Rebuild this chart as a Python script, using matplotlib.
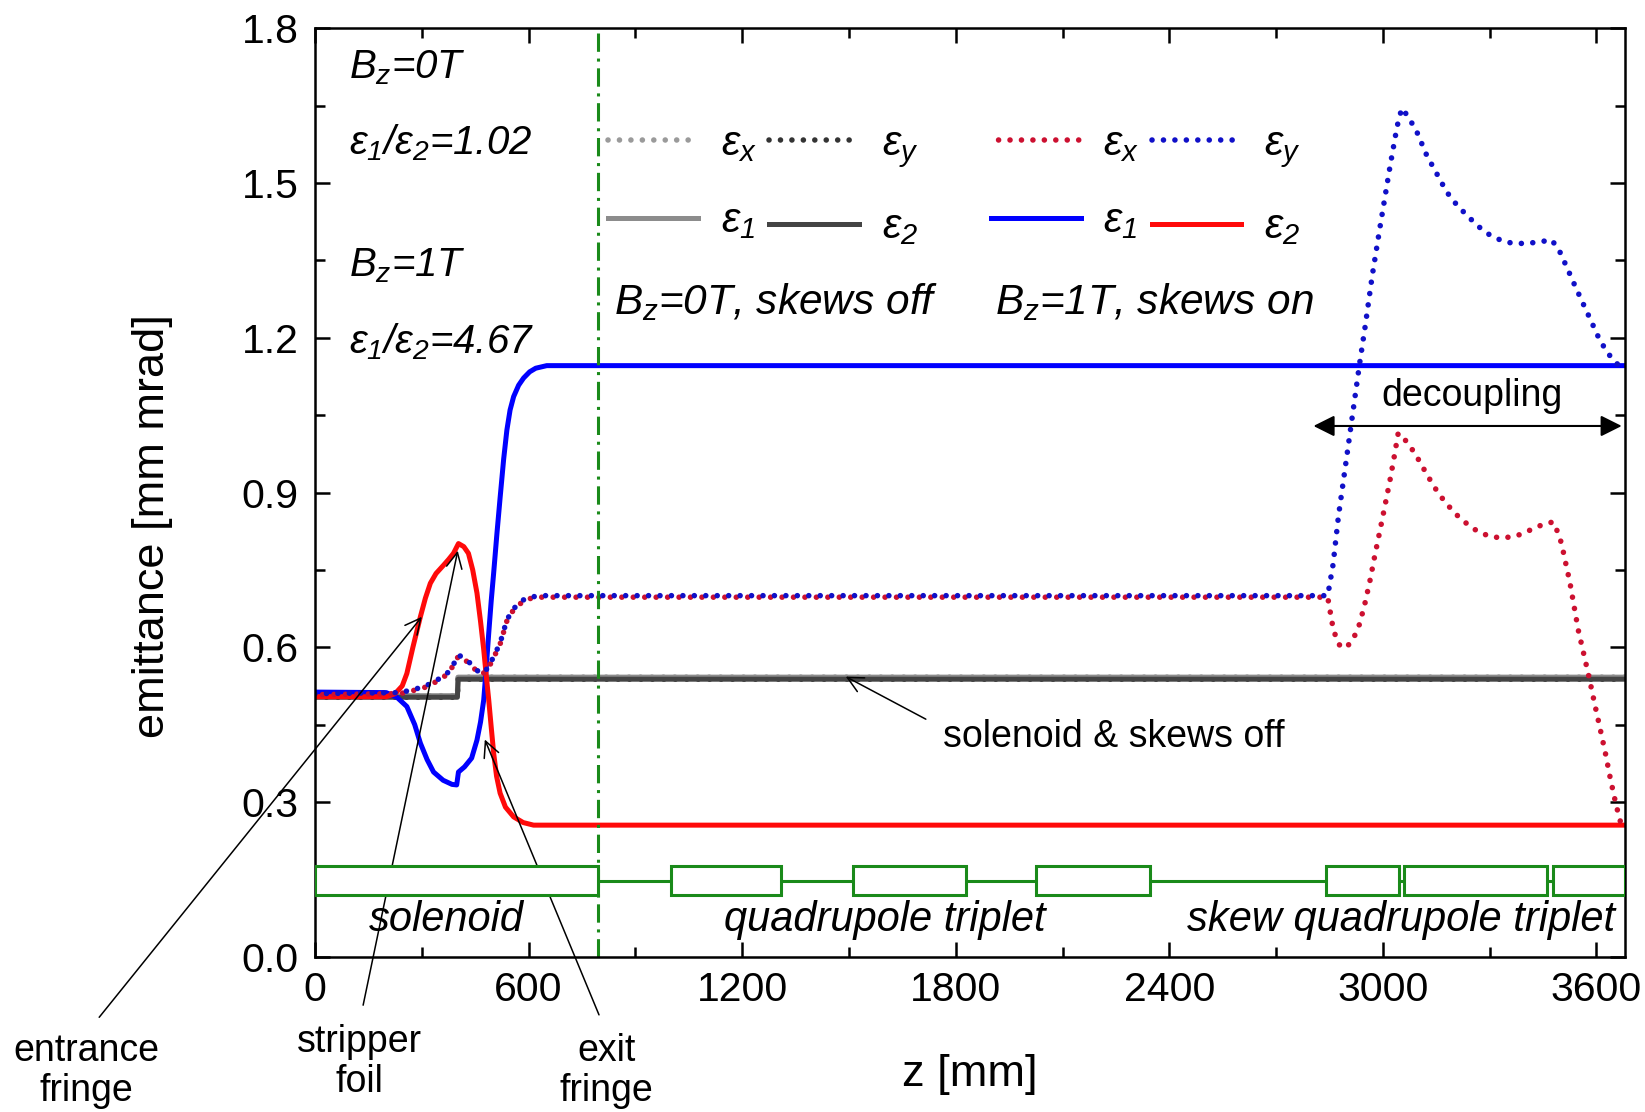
import matplotlib.pyplot as plt
from matplotlib.patches import Rectangle
from matplotlib.ticker import MultipleLocator, FormatStrFormatter

plt.rcParams['font.family'] = ['Liberation Sans', 'DejaVu Sans']
plt.rcParams['mathtext.fontset'] = 'custom'
plt.rcParams['mathtext.rm'] = 'Liberation Sans:italic'
plt.rcParams['mathtext.it'] = 'Liberation Sans:italic'
plt.rcParams['mathtext.bf'] = 'Liberation Sans:bold'

# ---- data (z in mm, emittance in mm mrad) ----
# Bz = 0 T, skews off
z_off = [0, 400, 402, 3680]
eps1_off = [0.506, 0.506, 0.542, 0.542]
eps2_off = [0.503, 0.503, 0.538, 0.538]
epsx_off = [0.506, 0.506, 0.542, 0.542]
epsy_off = [0.503, 0.503, 0.538, 0.538]

# Bz = 1 T, skews on : eigen-emittances
z_e1 = [0, 200, 230, 258, 280, 296, 315, 333, 360, 385, 398, 403, 420, 440,
        455, 465, 474, 481, 488, 495, 502, 511, 520, 530, 539, 548, 558, 572,
        586, 603, 620, 651, 3680]
eps1_on = [0.513, 0.512, 0.503, 0.485, 0.450, 0.414, 0.382, 0.358, 0.342,
           0.334, 0.333, 0.358, 0.368, 0.385, 0.420, 0.455, 0.498, 0.560,
           0.627, 0.690, 0.745, 0.820, 0.890, 0.965, 1.021, 1.060, 1.086,
           1.108, 1.122, 1.134, 1.141, 1.146, 1.146]
z_e2 = [0, 200, 225, 245, 258, 275, 296, 310, 324, 340, 361, 375, 389, 403,
        418, 431, 443, 455, 465, 474, 481, 488, 495, 502, 510, 520, 535, 558,
        585, 614, 3680]
eps2_on = [0.504, 0.504, 0.510, 0.525, 0.549, 0.600, 0.659, 0.695, 0.724,
           0.743, 0.759, 0.770, 0.782, 0.801, 0.795, 0.782, 0.750, 0.705,
           0.650, 0.595, 0.545, 0.498, 0.445, 0.394, 0.350, 0.317, 0.290,
           0.271, 0.260, 0.255, 0.255]

# Bz = 1 T, skews on : projected emittances
z_x = [0, 240, 270, 305, 340, 371, 390, 403, 420, 436, 455, 469, 486, 502,
       520, 539, 558, 591, 630, 2845, 2861, 2877, 2893, 2912, 2931, 2948,
       2964, 2978, 2992, 3006, 3020, 3032, 3043, 3065, 3090, 3127, 3150, 3174,
       3205, 3240, 3270, 3305, 3340, 3376, 3410, 3446, 3478, 3490, 3502, 3513,
       3525, 3537, 3549, 3565, 3581, 3595, 3610, 3625, 3638, 3650, 3661, 3668]
epsx_on = [0.508, 0.510, 0.515, 0.521, 0.533, 0.547, 0.566, 0.583, 0.576,
           0.567, 0.553, 0.547, 0.558, 0.580, 0.606, 0.651, 0.673, 0.693,
           0.697, 0.697, 0.633, 0.605, 0.598, 0.610, 0.637, 0.680, 0.730,
           0.780, 0.827, 0.875, 0.924, 0.970, 1.015, 1.000, 0.976, 0.931,
           0.905, 0.882, 0.858, 0.837, 0.823, 0.814, 0.812, 0.816, 0.826,
           0.837, 0.843, 0.825, 0.801, 0.765, 0.727, 0.680, 0.633, 0.585,
           0.536, 0.490, 0.443, 0.395, 0.349, 0.310, 0.278, 0.260]
z_y = [0, 240, 270, 305, 340, 371, 390, 403, 420, 436, 455, 469, 486, 502,
       520, 539, 558, 591, 630, 2845, 2860, 2875, 2903, 2934, 2950, 2970,
       2992, 3020, 3040, 3053, 3070, 3095, 3123, 3150, 3179, 3205, 3235, 3270,
       3301, 3335, 3366, 3405, 3441, 3474, 3495, 3516, 3537, 3558, 3580, 3605,
       3627, 3647, 3665]
epsy_on = [0.510, 0.512, 0.517, 0.523, 0.535, 0.549, 0.568, 0.585, 0.578,
           0.569, 0.555, 0.549, 0.560, 0.582, 0.608, 0.653, 0.675, 0.695,
           0.700, 0.700, 0.760, 0.853, 0.992, 1.147, 1.221, 1.320, 1.415,
           1.532, 1.610, 1.645, 1.630, 1.600, 1.554, 1.520, 1.483, 1.460,
           1.438, 1.415, 1.399, 1.388, 1.383, 1.383, 1.386, 1.390, 1.370,
           1.338, 1.305, 1.273, 1.240, 1.202, 1.175, 1.157, 1.145]

# beamline elements
elem_start = [0, 1000, 1510, 2025, 2840, 3060, 3477]
elem_end = [795, 1310, 1828, 2347, 3045, 3460, 3680]
beam_y = 0.1475
box_lo, box_hi = 0.12, 0.175
solenoid_end = 795

region_names = ['solenoid', 'quadrupole triplet', 'skew quadrupole triplet']
region_z = [369, 1600, 3052]

# annotations
ann_text = ['entrance\nfringe', 'stripper\nfoil', 'exit\nfringe']
ann_text_pos = [(-642, -0.222), (124, -0.205), (819, -0.222)]
ann_target = [(300, 0.659), (401, 0.787), (477, 0.421)]

# ---- colours ----
c_blue, c_red = '#0000ff', '#ff0a0a'
c_blue_d, c_red_d = '#1010c8', '#cc1030'
c_gray_l, c_gray_d = '#8c8c8c', '#444444'
c_green = '#1a8a1a'

fig = plt.figure(figsize=(16.45, 11.12), dpi=100)
ax = fig.add_axes([0.1915, 0.1397, 0.7963, 0.8348])

dot = dict(lw=4.0, dash_capstyle='round')
pat = (0.01, 2.05)
lx0, = ax.plot(z_off, epsx_off, color='#9a9a9a', linestyle=(0, pat), **dot)
ly0, = ax.plot(z_off, epsy_off, color='#333333', linestyle=(0, pat), **dot)
l10, = ax.plot(z_off, eps1_off, color=c_gray_l, lw=3.6)
l20, = ax.plot(z_off, eps2_off, color=c_gray_d, lw=3.6)

l11, = ax.plot(z_e1, eps1_on, color=c_blue, lw=3.6)
l21, = ax.plot(z_e2, eps2_on, color=c_red, lw=3.6)
lx1, = ax.plot(z_x, epsx_on, color=c_red_d, linestyle=(0.7, pat), **dot)
ly1, = ax.plot(z_y, epsy_on, color=c_blue_d, linestyle=(0, pat), **dot)

# solenoid exit marker
ax.axvline(solenoid_end, color=c_green, lw=2.2, linestyle=(0, (6, 2.2, 1, 2.2)))

# beamline sketch
ax.axhline(beam_y, color=c_green, lw=2.2, zorder=3)
for s, e in zip(elem_start, elem_end):
    ax.add_patch(Rectangle((s, box_lo), e - s, box_hi - box_lo, facecolor='white',
                           edgecolor=c_green, lw=2.2, zorder=4))
for name, zc in zip(region_names, region_z):
    ax.text(zc, 0.05, name, ha='center', va='baseline', style='italic', fontsize=30)

# legends
leg_kw = dict(ncol=2, loc='upper left', frameon=False, fontsize=30, handlelength=2.15,
              handletextpad=0.55, columnspacing=0.3, labelspacing=0.9,
              borderpad=0, borderaxespad=0)
lab = [r'$\varepsilon_x$', r'$\varepsilon_1$', r'$\varepsilon_y$', r'$\varepsilon_2$']
leg1 = ax.legend([lx0, l10, ly0, l20], lab, bbox_to_anchor=(0.224, 0.897), **leg_kw)
ax.add_artist(leg1)
ax.legend([lx1, l11, ly1, l21], lab, bbox_to_anchor=(0.516, 0.897), **leg_kw)
ax.text(840, 1.245, r'$B_z$=0T, skews off', style='italic', fontsize=30.5)
ax.text(1909, 1.245, r'$B_z$=1T, skews on', style='italic', fontsize=30.5)

# emittance ratios
ax.text(96, 1.702, r'$B_z$=0T', style='italic', fontsize=29)
ax.text(96, 1.556, r'$\varepsilon_1$/$\varepsilon_2$=1.02', style='italic', fontsize=29)
ax.text(96, 1.320, r'$B_z$=1T', style='italic', fontsize=29)
ax.text(96, 1.169, r'$\varepsilon_1$/$\varepsilon_2$=4.67', style='italic', fontsize=29)

# annotations
for txt, pos, tgt in zip(ann_text, ann_text_pos, ann_target):
    ax.annotate(txt, xy=tgt, xytext=pos, ha='center', va='center', fontsize=27,
                linespacing=1.15, annotation_clip=False,
                arrowprops=dict(arrowstyle='->', lw=1.1, color='k', shrinkA=12,
                                shrinkB=0, mutation_scale=28, relpos=(0.5, 1.0)))
ax.annotate('solenoid & skews off', xy=(1491, 0.543), xytext=(2245, 0.425),
            ha='center', va='center', fontsize=27,
            arrowprops=dict(arrowstyle='->', lw=1.1, color='k', shrinkA=12,
                            shrinkB=0, mutation_scale=28, relpos=(0.0, 0.75)))
ax.text(3249, 1.088, 'decoupling', ha='center', va='center', fontsize=27)
ax.annotate('', xy=(3671, 1.029), xytext=(2805, 1.029),
            arrowprops=dict(arrowstyle='<|-|>', lw=1.5, color='k', shrinkA=0,
                            shrinkB=0, mutation_scale=32))

# axes
ax.set_xlim(0, 3680)
ax.set_ylim(0, 1.8)
ax.xaxis.set_major_locator(MultipleLocator(600))
ax.xaxis.set_minor_locator(MultipleLocator(300))
ax.yaxis.set_major_locator(MultipleLocator(0.3))
ax.yaxis.set_minor_locator(MultipleLocator(0.15))
ax.yaxis.set_major_formatter(FormatStrFormatter('%.1f'))
ax.tick_params(which='both', direction='in', top=True, right=True, width=1.8,
               labelsize=29.5)
ax.tick_params(which='major', length=11)
ax.tick_params(which='minor', length=7)
ax.tick_params(axis='x', pad=10)
ax.tick_params(axis='y', pad=12)
for sp in ax.spines.values():
    sp.set_linewidth(1.8)

ax.set_xlabel('z [mm]', fontsize=32.5)
ax.set_ylabel('emittance [mm mrad]', fontsize=32.5)
ax.xaxis.set_label_coords(0.5, -0.105)
ax.xaxis.label.set_va('top')
ax.yaxis.set_label_coords(-0.1085, 0.464)

fig.savefig('out.png', dpi=100)
